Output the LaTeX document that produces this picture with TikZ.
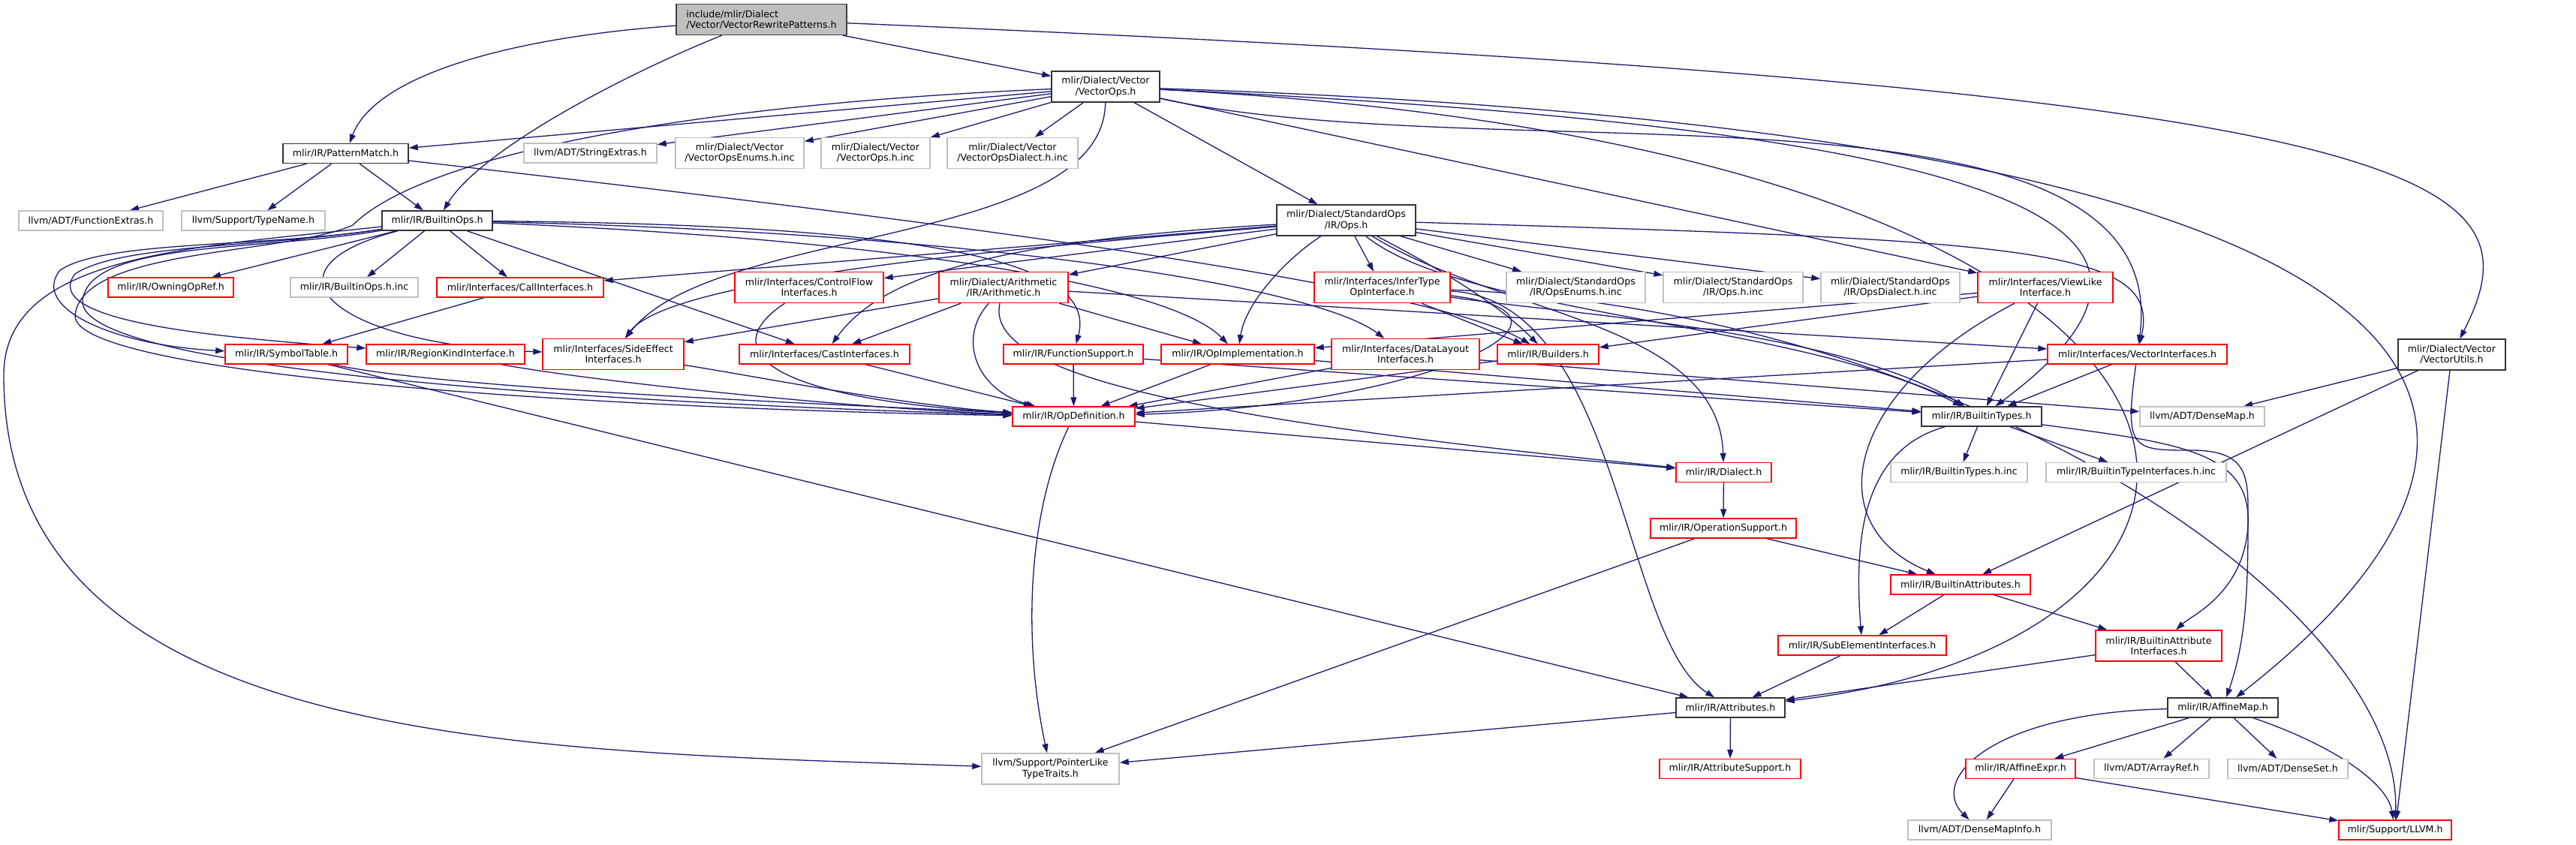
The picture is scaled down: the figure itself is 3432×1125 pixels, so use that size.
\documentclass[tikz,border=0pt]{standalone}
\usepackage{fontspec}
\usetikzlibrary{arrows.meta}
\newfontfamily\graphfont{DejaVu Sans}
\definecolor{edgeblue}{HTML}{191970}
\definecolor{rootgray}{HTML}{BFBFBF}
\definecolor{extgray}{HTML}{BFBFBF}
\definecolor{truncred}{HTML}{FF0000}
\pgfdeclarelayer{edges}
\pgfsetlayers{edges,main}

\begin{document}
\begin{tikzpicture}[x=1pt, y=-1pt,
  file/.style={rectangle, fill=white, line width=1.4pt, inner sep=2pt, align=center,
    minimum height=26pt, font=\graphfont\fontsize{12.6}{14.3}\selectfont},
  twoline/.style={minimum height=41pt},
  mainfile/.style={file, draw=black!75, fill=rootgray, align=left},
  hdr/.style={file, draw=black!80},
  trunc/.style={file, draw=truncred},
  ext/.style={file, draw=extgray},
  dep/.style={->, draw=edgeblue, line width=1.3pt},
  >={Triangle[length=12pt, width=8pt]}
]
\useasboundingbox (0,0) rectangle (3432,1125);

\node[mainfile, twoline, minimum width=227pt] (root) at (1014.5,26) {include/mlir/Dialect\\/Vector/VectorRewritePatterns.h};
\node[hdr, twoline, minimum width=144pt] (vops) at (1473,115.5) {mlir/Dialect/Vector\\/VectorOps.h};
\node[hdr, minimum width=167pt] (pm) at (460.5,204.5) {mlir/IR/PatternMatch.h};
\node[ext, minimum width=177pt] (strx) at (786.5,204) {llvm/ADT/StringExtras.h};
\node[ext, twoline, minimum width=171pt] (venum) at (985.5,204) {mlir/Dialect/Vector\\/VectorOpsEnums.h.inc};
\node[ext, twoline, minimum width=145pt] (vinc) at (1166.5,204) {mlir/Dialect/Vector\\/VectorOps.h.inc};
\node[ext, twoline, minimum width=174pt] (vdial) at (1349,204) {mlir/Dialect/Vector\\/VectorOpsDialect.h.inc};
\node[ext, minimum width=192pt] (fext) at (121,294) {llvm/ADT/FunctionExtras.h};
\node[ext, minimum width=191pt] (tname) at (337.5,294) {llvm/Support/TypeName.h};
\node[hdr, minimum width=147pt] (bops) at (582.5,294) {mlir/IR/BuiltinOps.h};
\node[hdr, twoline, minimum width=185pt] (stdops) at (1793.5,293.5) {mlir/Dialect/StandardOps\\/IR/Ops.h};
\node[trunc, minimum width=167pt] (owning) at (227.5,383) {mlir/IR/OwningOpRef.h};
\node[ext, minimum width=170pt] (bopsinc) at (472,383) {mlir/IR/BuiltinOps.h.inc};
\node[trunc, minimum width=222pt] (call) at (693,383) {mlir/Interfaces/CallInterfaces.h};
\node[trunc, twoline, minimum width=198pt] (cflow) at (1078,383) {mlir/Interfaces/ControlFlow\\Interfaces.h};
\node[trunc, twoline, minimum width=172pt] (arith) at (1337,383) {mlir/Dialect/Arithmetic\\/IR/Arithmetic.h};
\node[trunc, twoline, minimum width=181pt] (infer) at (1841.5,383) {mlir/Interfaces/InferType\\OpInterface.h};
\node[ext, twoline, minimum width=185pt] (openum) at (2099.5,383) {mlir/Dialect/StandardOps\\/IR/OpsEnums.h.inc};
\node[ext, twoline, minimum width=186pt] (opsinc) at (2309,383) {mlir/Dialect/StandardOps\\/IR/Ops.h.inc};
\node[ext, twoline, minimum width=185pt] (opsdial) at (2518.5,383) {mlir/Dialect/StandardOps\\/IR/OpsDialect.h.inc};
\node[trunc, twoline, minimum width=180pt] (viewlike) at (2725,383) {mlir/Interfaces/ViewLike\\Interface.h};
\node[trunc, minimum width=163pt] (symtab) at (381.5,472) {mlir/IR/SymbolTable.h};
\node[trunc, minimum width=211pt] (regkind) at (593.5,472) {mlir/IR/RegionKindInterface.h};
\node[trunc, twoline, minimum width=188pt] (sideeff) at (817,472) {mlir/Interfaces/SideEffect\\Interfaces.h};
\node[trunc, minimum width=227pt] (cast) at (1098.5,472) {mlir/Interfaces/CastInterfaces.h};
\node[trunc, minimum width=186pt] (funcsup) at (1430,472) {mlir/IR/FunctionSupport.h};
\node[trunc, minimum width=204pt] (opimpl) at (1649,472) {mlir/IR/OpImplementation.h};
\node[trunc, twoline, minimum width=197pt] (dlayout) at (1872.5,472) {mlir/Interfaces/DataLayout\\Interfaces.h};
\node[trunc, minimum width=135pt] (builders) at (2062.5,472) {mlir/IR/Builders.h};
\node[trunc, minimum width=239pt] (vecint) at (2847.5,472) {mlir/Interfaces/VectorInterfaces.h};
\node[hdr, twoline, minimum width=143pt] (vutils) at (3266.5,472.5) {mlir/Dialect/Vector\\/VectorUtils.h};
\node[trunc, minimum width=163pt] (opdef) at (1430.5,555) {mlir/IR/OpDefinition.h};
\node[hdr, minimum width=160pt] (btypes) at (2640,555) {mlir/IR/BuiltinTypes.h};
\node[ext, minimum width=166pt] (densemap) at (2934,555) {llvm/ADT/DenseMap.h};
\node[trunc, minimum width=127pt] (dialect) at (2296.5,629.5) {mlir/IR/Dialect.h};
\node[ext, minimum width=182pt] (btinc) at (2610,629.5) {mlir/IR/BuiltinTypes.h.inc};
\node[ext, minimum width=240pt] (btiinc) at (2846,629.5) {mlir/IR/BuiltinTypeInterfaces.h.inc};
\node[trunc, minimum width=194pt] (opsup) at (2296,704) {mlir/IR/OperationSupport.h};
\node[trunc, minimum width=186pt] (battr) at (2612,779) {mlir/IR/BuiltinAttributes.h};
\node[trunc, minimum width=224pt] (subel) at (2481,860) {mlir/IR/SubElementInterfaces.h};
\node[trunc, twoline, minimum width=168pt] (baint) at (2876,860.5) {mlir/IR/BuiltinAttribute\\Interfaces.h};
\node[hdr, minimum width=145pt] (attrs) at (2305.5,943) {mlir/IR/Attributes.h};
\node[hdr, minimum width=147pt] (amap) at (2961.5,943) {mlir/IR/AffineMap.h};
\node[ext, twoline, minimum width=183pt] (ptrlike) at (1399.5,1024.5) {llvm/Support/PointerLike\\TypeTraits.h};
\node[trunc, minimum width=188pt] (attrsup) at (2305,1024.5) {mlir/IR/AttributeSupport.h};
\node[trunc, minimum width=146pt] (aexpr) at (2692,1024.5) {mlir/IR/AffineExpr.h};
\node[ext, minimum width=153pt] (arrref) at (2866.5,1024.5) {llvm/ADT/ArrayRef.h};
\node[ext, minimum width=160pt] (denseset) at (3048,1024.5) {llvm/ADT/DenseSet.h};
\node[ext, minimum width=191pt] (dmapinfo) at (2637.5,1106) {llvm/ADT/DenseMapInfo.h};
\node[trunc, minimum width=150pt] (llvmh) at (3191,1106) {mlir/Support/LLVM.h};

\begin{pgfonlayer}{edges}
\draw[dep] (root) .. controls (680,50) and (500,100) .. (pm);
\draw[dep] (root) .. controls (830,100) and (640,200) .. (bops);
\draw[dep] (root) -- (vops);
\draw[dep] (root) .. controls (3250,120) and (3390,230) .. (vutils);

\draw[dep] (vops) -- (pm);
\draw[dep] (vops) -- (strx);
\draw[dep] (vops) -- (venum);
\draw[dep] (vops) -- (vinc);
\draw[dep] (vops) -- (vdial);
\draw[dep] (vops) -- (stdops);
\draw[dep] (vops) .. controls (1470,330) and (950,300) .. (sideeff);
\draw[dep] (vops) .. controls (900,140) and (560,210) .. (470,300) .. controls (380,340) and (110,330) .. (100,420) .. controls (95,500) and (800,545) .. (opdef);
\draw[dep] (vops) -- (viewlike);
\draw[dep] (vops) .. controls (2000,230) and (2900,80) .. (vecint);
\draw[dep] (vops) .. controls (2600,170) and (3010,280) .. (btypes);
\draw[dep] (vops) .. controls (3100,200) and (3100,850) .. (attrs);
\draw[dep] (vops) .. controls (3450,180) and (3400,600) .. (amap);

\draw[dep] (pm) -- (fext);
\draw[dep] (pm) -- (tname);
\draw[dep] (pm) -- (bops);
\draw[dep] (pm) .. controls (1300,300) and (1900,380) .. (builders);

\draw[dep] (bops) -- (owning);
\draw[dep] (bops) -- (bopsinc);
\draw[dep] (bops) -- (call);
\draw[dep] (bops) -- (cast);
\draw[dep] (bops) .. controls (350,330) and (140,320) .. (80,360) .. controls (40,410) and (150,460) .. (symtab);
\draw[dep] (bops) .. controls (350,330) and (160,325) .. (100,365) .. controls (50,430) and (300,450) .. (regkind);
\draw[dep] (bops) .. controls (330,360) and (450,460) .. (sideeff);
\draw[dep] (bops) .. controls (250,330) and (5,340) .. (5,500) .. controls (5,1000) and (700,1000) .. (ptrlike);
\draw[dep] (bops) .. controls (350,335) and (120,320) .. (110,400) .. controls (100,500) and (900,540) .. (opdef);
\draw[dep] (bops) .. controls (1300,300) and (1460,360) .. (funcsup);
\draw[dep] (bops) .. controls (1200,320) and (1560,380) .. (opimpl);
\draw[dep] (bops) .. controls (1300,310) and (1750,380) .. (dlayout);

\draw[dep] (stdops) -- (call);
\draw[dep] (stdops) -- (cflow);
\draw[dep] (stdops) -- (arith);
\draw[dep] (stdops) .. controls (1500,320) and (900,360) .. (sideeff);
\draw[dep] (stdops) .. controls (1350,320) and (1180,360) .. (cast);
\draw[dep] (stdops) .. controls (1720,340) and (1660,400) .. (opimpl);
\draw[dep] (stdops) -- (infer);
\draw[dep] (stdops) -- (openum);
\draw[dep] (stdops) -- (opsinc);
\draw[dep] (stdops) -- (opsdial);
\draw[dep] (stdops) .. controls (1960,380) and (2010,420) .. (builders);
\draw[dep] (stdops) .. controls (2700,320) and (2880,330) .. (vecint);
\draw[dep] (stdops) .. controls (2000,420) and (2290,430) .. (dialect);
\draw[dep] (stdops) .. controls (1950,420) and (2400,430) .. (btypes);

\draw[dep] (cflow) .. controls (960,460) and (1000,530) .. (opdef);

\draw[dep] (arith) -- (sideeff);
\draw[dep] (arith) -- (cast);
\draw[dep] (arith) .. controls (1275,450) and (1300,520) .. (opdef);
\draw[dep] (arith) -- (opimpl);
\draw[dep] (arith) -- (vecint);
\draw[dep] (arith) .. controls (1310,500) and (1600,560) .. (dialect);

\draw[dep] (infer) -- (builders);
\draw[dep] (infer) .. controls (2150,420) and (1900,540) .. (opdef);
\draw[dep] (infer) .. controls (2100,420) and (2450,440) .. (btypes);
\draw[dep] (infer) .. controls (2160,400) and (2160,850) .. (attrs);
\draw[dep] (infer) .. controls (2600,410) and (3200,800) .. (llvmh);

\draw[dep] (viewlike) -- (opimpl);
\draw[dep] (viewlike) -- (builders);
\draw[dep] (viewlike) -- (btypes);
\draw[dep] (viewlike) .. controls (2460,520) and (2420,700) .. (battr);

\draw[dep] (vecint) -- (opdef);
\draw[dep] (vecint) -- (btypes);
\draw[dep] (vecint) .. controls (2830,600) and (2840,600) .. (2920,600) .. controls (3000,600) and (2995,640) .. (2995,700) .. controls (2995,800) and (2990,860) .. (amap);

\draw[dep] (opdef) -- (dialect);
\draw[dep] (opdef) .. controls (1370,680) and (1362,850) .. (ptrlike);
\draw[dep] (symtab) .. controls (600,520) and (1150,540) .. (opdef);
\draw[dep] (symtab) -- (attrs);
\draw[dep] (regkind) .. controls (800,510) and (1150,545) .. (opdef);
\draw[dep] (sideeff) .. controls (1000,500) and (1200,540) .. (opdef);
\draw[dep] (cast) -- (opdef);
\draw[dep] (funcsup) -- (opdef);
\draw[dep] (funcsup) -- (btypes);
\draw[dep] (opimpl) -- (opdef);
\draw[dep] (opimpl) -- (btypes);
\draw[dep] (dlayout) -- (opdef);
\draw[dep] (dlayout) -- (densemap);
\draw[dep] (builders) -- (opdef);
\draw[dep] (call) -- (symtab);

\draw[dep] (btypes) -- (btinc);
\draw[dep] (btypes) -- (btiinc);
\draw[dep] (btypes) .. controls (2480,600) and (2470,720) .. (subel);
\draw[dep] (btypes) .. controls (2900,590) and (3000,600) .. (2995,700) .. controls (2990,790) and (2920,820) .. (baint);
\draw[dep] (dialect) -- (opsup);
\draw[dep] (opsup) -- (battr);
\draw[dep] (opsup) -- (ptrlike);
\draw[dep] (battr) -- (subel);
\draw[dep] (battr) -- (baint);
\draw[dep] (subel) -- (attrs);
\draw[dep] (baint) -- (attrs);
\draw[dep] (baint) -- (amap);
\draw[dep] (attrs) -- (attrsup);
\draw[dep] (attrs) -- (ptrlike);
\draw[dep] (amap) -- (aexpr);
\draw[dep] (amap) -- (arrref);
\draw[dep] (amap) -- (denseset);
\draw[dep] (amap) .. controls (2650,950) and (2570,1040) .. (dmapinfo);
\draw[dep] (amap) .. controls (3100,990) and (3180,1040) .. (llvmh);
\draw[dep] (aexpr) -- (dmapinfo);
\draw[dep] (aexpr) -- (llvmh);
\draw[dep] (vutils) -- (densemap);
\draw[dep] (vutils) -- (battr);
\draw[dep] (vutils) -- (llvmh);
\end{pgfonlayer}
\end{tikzpicture}
\end{document}
